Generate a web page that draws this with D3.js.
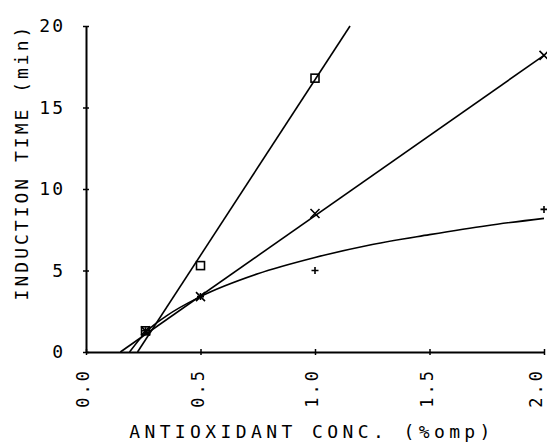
<!DOCTYPE html>
<html>
<head>
<meta charset="utf-8">
<script src="https://cdn.jsdelivr.net/npm/d3@7"></script>
<style>
  body { margin: 0; background: #fff; }
  text { font-family: "DejaVu Sans Mono", monospace; fill: #000; }
</style>
</head>
<body>
<script>
var width = 547,
    height = 445;

// ticks
var xTicks = [0.0, 0.5, 1.0, 1.5, 2.0];
var yTicks = [0, 5, 10, 15, 20];

// measured points (three antioxidants)
var squareX = [0.26, 0.5, 1.0];
var squareY = [1.3, 5.3, 16.8];
var crossX = [0.26, 0.5, 1.0, 2.0];
var crossY = [1.3, 3.4, 8.5, 18.2];
var plusX = [0.26, 0.5, 1.0, 2.0];
var plusY = [1.3, 3.4, 5.0, 8.75];

// fitted lines
var squareFitX = [0.225, 1.153];
var squareFitY = [0, 20];
var crossFitX = [0.15, 2.0];
var crossFitY = [0, 18.2];
var plusFitX = [0.19, 0.26, 0.35, 0.5, 0.75, 1.0, 1.25, 1.5, 1.75, 2.0];
var plusFitY = [0, 1.2, 2.2, 3.4, 4.8, 5.8, 6.6, 7.2, 7.75, 8.2];

var margin = {top: 26, right: 3, bottom: 93, left: 86};

var svg = d3.select('body')
    .append('svg')
    .attr('width', width)
    .attr('height', height);

var x = d3.scaleLinear().domain([0, 2]).range([margin.left, width - margin.right]);
var y = d3.scaleLinear().domain([0, 20]).range([height - margin.bottom, margin.top]);

function pts(xs, ys) {
  return xs.map(function(d, i) { return [d, ys[i]]; });
}

var line = d3.line()
    .x(function(d) { return x(d[0]); })
    .y(function(d) { return y(d[1]); });

// axes
var yAxis = svg.append("g")
    .attr("transform", "translate(" + margin.left + ",0)")
    .call(d3.axisLeft(y).tickValues(yTicks).tickSize(3).tickPadding(20).tickSizeOuter(0));
yAxis.select(".domain").attr("stroke-width", 2);
yAxis.selectAll(".tick line").attr("x1", -3).attr("x2", 3).attr("stroke-width", 1.5);
yAxis.selectAll(".tick text")
    .style("font-size", "18px")
    .style("letter-spacing", "2px")
    .attr("dx", "2px");

var xAxis = svg.append("g")
    .attr("transform", "translate(0," + y(0) + ")")
    .call(d3.axisBottom(x).tickValues(xTicks).tickFormat(d3.format(".1f")).tickSize(3).tickSizeOuter(0));
xAxis.select(".domain").attr("stroke-width", 2);
xAxis.selectAll(".tick line").attr("y1", -3).attr("y2", 3).attr("stroke-width", 1.5);
xAxis.selectAll(".tick text")
    .style("font-size", "17px")
    .style("letter-spacing", "3px")
    .attr("text-anchor", "end")
    .attr("transform", "translate(0,16) rotate(-90)")
    .attr("x", 0)
    .attr("y", 0)
    // last label sits on the right edge, keep it inside the page
    .attr("dy", function(d) { return d === 2 ? "-0.12em" : "0.15em"; });

// axis titles
svg.append("text")
    .attr("x", 312)
    .attr("y", 438)
    .attr("text-anchor", "middle")
    .style("font-size", "18px")
    .style("letter-spacing", "4.4px")
    .text("ANTIOXIDANT CONC. (%omp)");

svg.append("text")
    .attr("transform", "translate(28,162) rotate(-90)")
    .attr("text-anchor", "middle")
    .style("font-size", "18px")
    .style("letter-spacing", "3px")
    .text("INDUCTION TIME (min)");

// fit lines
var fits = svg.append("g").attr("fill", "none").attr("stroke", "#000").attr("stroke-width", 1.6);
fits.append("path").attr("d", line(pts(squareFitX, squareFitY)));
fits.append("path").attr("d", line(pts(crossFitX, crossFitY)));
fits.append("path").attr("d", line.curve(d3.curveMonotoneX)(pts(plusFitX, plusFitY)));
line.curve(d3.curveLinear);

// markers
var marks = svg.append("g").attr("fill", "none").attr("stroke", "#000").attr("stroke-width", 1.6);

marks.selectAll(".sq")
    .data(pts(squareX, squareY))
    .enter().append("rect")
      .attr("class", "sq")
      .attr("x", function(d) { return x(d[0]) - 4; })
      .attr("y", function(d) { return y(d[1]) - 4; })
      .attr("width", 8)
      .attr("height", 8);

marks.selectAll(".cr")
    .data(pts(crossX, crossY))
    .enter().append("path")
      .attr("class", "cr")
      .attr("d", function(d) {
        var cx = x(d[0]), cy = y(d[1]), s = 4.5;
        return "M" + (cx - s) + "," + (cy - s) + "L" + (cx + s) + "," + (cy + s) +
               "M" + (cx - s) + "," + (cy + s) + "L" + (cx + s) + "," + (cy - s);
      });

marks.selectAll(".pl")
    .data(pts(plusX, plusY))
    .enter().append("path")
      .attr("class", "pl")
      .attr("d", function(d) {
        var cx = x(d[0]), cy = y(d[1]), s = 3.5;
        return "M" + (cx - s) + "," + cy + "L" + (cx + s) + "," + cy +
               "M" + cx + "," + (cy - s) + "L" + cx + "," + (cy + s);
      });
</script>
</body>
</html>
